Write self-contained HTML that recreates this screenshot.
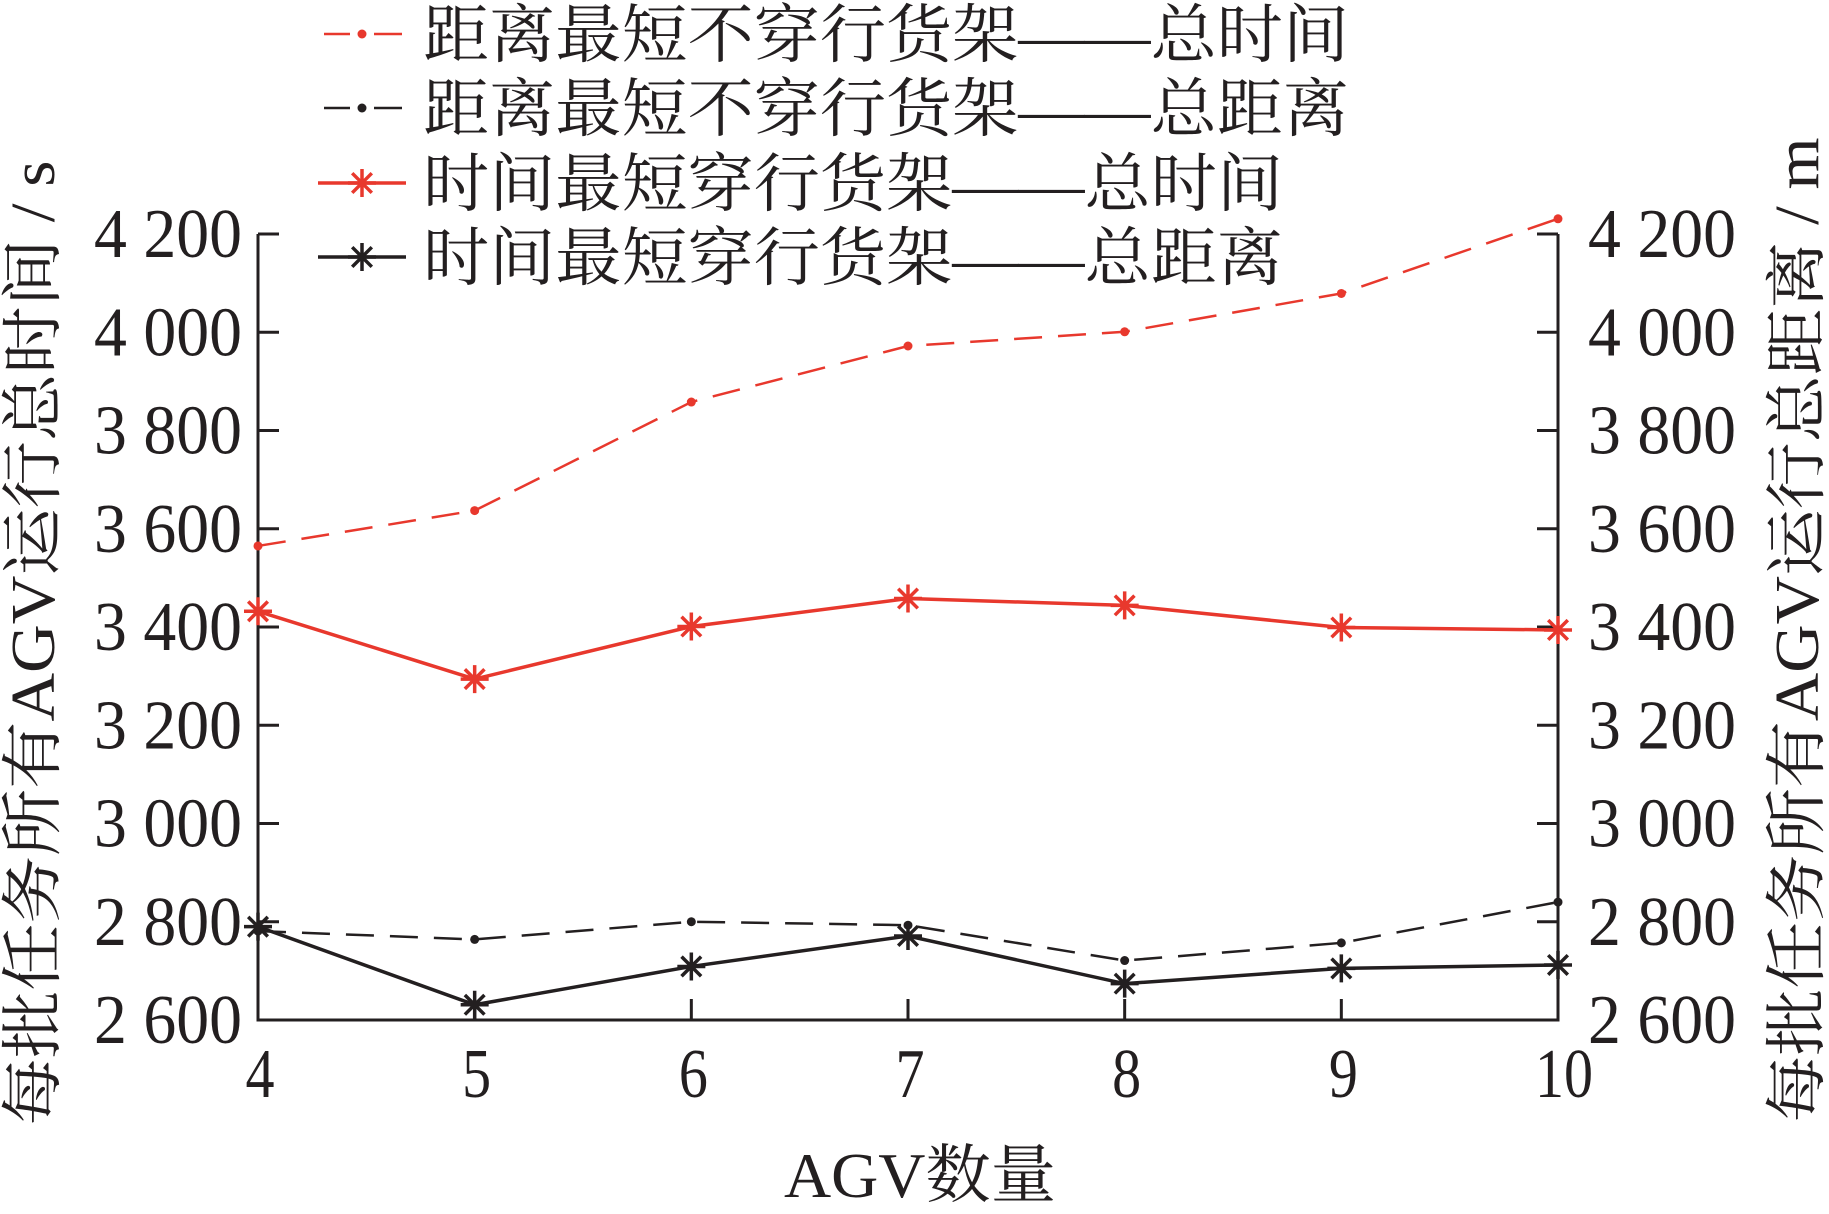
<!DOCTYPE html>
<html><head><meta charset="utf-8"><style>
html,body{margin:0;padding:0;background:#fff}
svg{display:block}
text{font-family:"Liberation Serif","Noto Serif CJK SC","Noto Sans CJK SC",serif;fill:#231f20}
.cjk{font-family:"Liberation Serif","Noto Serif CJK SC",serif}
</style></head><body>
<svg id="chart" width="1829" height="1214" viewBox="0 0 1829 1214" xmlns="http://www.w3.org/2000/svg">
<g id="axes"></g>
<g id="series"></g>
<g id="legend"></g>
<text class="cjk" x="920" y="1197" font-size="64" text-anchor="middle" textLength="272" lengthAdjust="spacingAndGlyphs">AGV数量</text>
<text class="cjk" transform="translate(54,643) rotate(-90)" x="0" y="0" font-size="62" text-anchor="middle" textLength="965" lengthAdjust="spacingAndGlyphs">每批任务所有AGV运行总时间 / s</text>
<text class="cjk" transform="translate(1818,630) rotate(-90)" x="0" y="0" font-size="62" text-anchor="middle" textLength="985" lengthAdjust="spacingAndGlyphs">每批任务所有AGV运行总距离 / m</text>
</svg>
<script>
const categories = [4, 5, 6, 7, 8, 9, 10];
const distShortTime = [3565, 3637, 3858, 3972, 4001, 4079, 4231];
const distShortDist = [2781, 2764, 2800, 2793, 2721, 2757, 2840];
const timeShortTime = [3432, 3294, 3401, 3458, 3444, 3399, 3394];
const timeShortDist = [2790, 2631, 2709, 2771, 2674, 2705, 2712];
const yTicks = [2600, 2800, 3000, 3200, 3400, 3600, 3800, 4000, 4200];
const yTickLabels = ["2 600", "2 800", "3 000", "3 200", "3 400", "3 600", "3 800", "4 000", "4 200"];
const legendLabels = ["距离最短不穿行货架——总时间", "距离最短不穿行货架——总距离", "时间最短穿行货架——总时间", "时间最短穿行货架——总距离"];

const NS = "http://www.w3.org/2000/svg";
const X0 = 258, X1 = 1558, Y0 = 1020, Y1 = 234;
const xs = v => X0 + (v - 4) / (10 - 4) * (X1 - X0);
const ys = v => Y0 - (v - 2600) / (4200 - 2600) * (Y0 - Y1);
const RED = "#e8382d", BLK = "#231f20";
function mk(tag, attrs, parent) {
  const e = document.createElementNS(NS, tag);
  for (const k in attrs) e.setAttribute(k, attrs[k]);
  parent.appendChild(e);
  return e;
}
const axes = document.getElementById("axes");
const series = document.getElementById("series");
const legend = document.getElementById("legend");

const frame = mk("path", {d: `M${X0},${Y1} V${Y0} H${X1} V${Y1}`, fill: "none", stroke: BLK, "stroke-width": 3}, axes);



yTicks.forEach((v, i) => {
  const y = ys(v);
  const t1 = mk("line", {x1: X0, x2: X0 + 21, y1: y, y2: y, stroke: BLK, "stroke-width": 3}, axes);
  
  
  const t2 = mk("line", {x1: X1, x2: X1 - 21, y1: y, y2: y, stroke: BLK, "stroke-width": 3}, axes);
  
  
  const l1 = mk("text", {x: 94, y: y + 23, "font-size": 70, textLength: 148, lengthAdjust: "spacingAndGlyphs"}, axes);
  l1.textContent = yTickLabels[i];
  
  
  const l2 = mk("text", {x: 1588, y: y + 23, "font-size": 70, textLength: 148, lengthAdjust: "spacingAndGlyphs"}, axes);
  l2.textContent = yTickLabels[i];
  
  
});
categories.forEach(c => {
  const x = xs(c);
  const t = mk("line", {x1: x, x2: x, y1: Y0, y2: Y0 - 21, stroke: BLK, "stroke-width": 3}, axes);
  
  
  const l = mk("text", {x: x + (c === 10 ? 6 : 2), y: 1097, "font-size": 70, "text-anchor": "middle", textLength: c === 10 ? 58 : 29, lengthAdjust: "spacingAndGlyphs"}, axes);
  l.textContent = String(c);
  
  
});

function star(g, x, y, color, r) {
  const p = mk("path", {d: `M${x - r},${y} H${x + r} M${x},${y - r} V${y + r} M${x - r * .7},${y - r * .7} L${x + r * .7},${y + r * .7} M${x - r * .7},${y + r * .7} L${x + r * .7},${y - r * .7}`, stroke: color, "stroke-width": 3.5, fill: "none"}, g);
  
  
}
function dot(g, x, y, color) {
  const c = mk("circle", {cx: x, cy: y, r: 4.5, fill: color}, g);
  
  
}
function drawSeries(vals, color, dashed, marker, name) {
  const g = mk("g", {}, series);
  
  
  const d = vals.map((v, i) => (i ? "L" : "M") + xs(categories[i]) + "," + ys(v)).join(" ");
  const attrs = {d: d, fill: "none", stroke: color, "stroke-width": dashed ? 2.5 : 3.5};
  if (dashed) attrs["stroke-dasharray"] = "28,16";
  const p = mk("path", attrs, g);
  
  
  vals.forEach((v, i) => marker === "star" ? star(g, xs(categories[i]), ys(v), color, 14) : dot(g, xs(categories[i]), ys(v), color));
}
drawSeries(distShortTime, RED, true, "dot", "series-dist-short-time");
drawSeries(distShortDist, BLK, true, "dot", "series-dist-short-dist");
drawSeries(timeShortTime, RED, false, "star", "series-time-short-time");
drawSeries(timeShortDist, BLK, false, "star", "series-time-short-dist");

const legRows = [
  {y: 34, color: RED, dashed: true, marker: "dot", len: 926},
  {y: 108, color: BLK, dashed: true, marker: "dot", len: 926},
  {y: 183, color: RED, dashed: false, marker: "star", len: 860},
  {y: 257, color: BLK, dashed: false, marker: "star", len: 860}
];
legRows.forEach((r, i) => {
  const g = mk("g", {}, legend);
  
  
  if (r.dashed) {
    const a = mk("line", {x1: 324, x2: 350, y1: r.y, y2: r.y, stroke: r.color, "stroke-width": 2.5}, g);
    
    
    const b = mk("line", {x1: 374, x2: 402, y1: r.y, y2: r.y, stroke: r.color, "stroke-width": 2.5}, g);
    
    
    dot(g, 362, r.y, r.color);
  } else {
    const a = mk("line", {x1: 318, x2: 406, y1: r.y, y2: r.y, stroke: r.color, "stroke-width": 3.5}, g);
    
    
    star(g, 362, r.y, r.color, 14);
  }
  const t = mk("text", {x: 423, y: r.y + 23, "font-size": 64, textLength: r.len, lengthAdjust: "spacingAndGlyphs", class: "cjk"}, g);
  t.textContent = legendLabels[i];
  
  
});
</script>
</body></html>
